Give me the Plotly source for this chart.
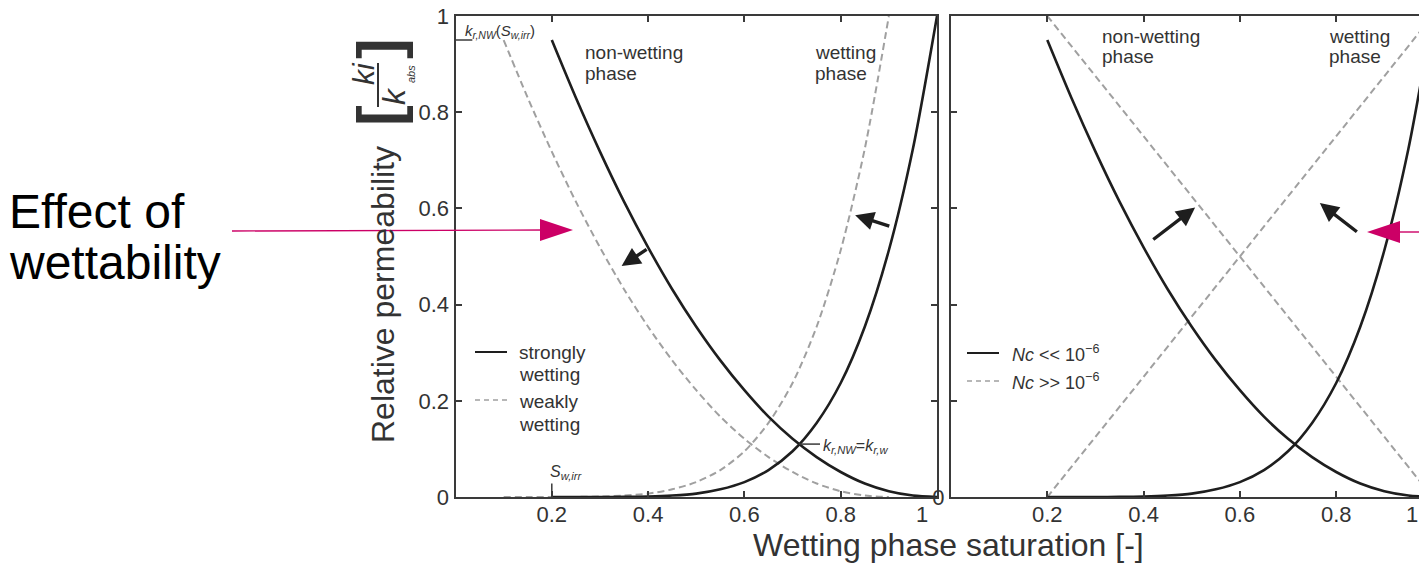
import plotly.graph_objects as go

W, H = 1419, 563

# ---- data -------------------------------------------------------------
# Strongly wetting (left) and Nc << 1e-6 (right): Corey-type curves
sw_strong = [0.20, 0.25, 0.30, 0.35, 0.40, 0.45, 0.50, 0.55, 0.60,
             0.65, 0.70, 0.75, 0.80, 0.85, 0.90, 0.95, 1.00]
kr_nw_strong = [0.95, 0.83, 0.718, 0.614, 0.519, 0.432, 0.354, 0.284, 0.222,
                0.167, 0.121, 0.083, 0.052, 0.028, 0.012, 0.003, 0.0]
kr_w_strong = [0.0, 0.0, 0.0, 0.0002, 0.001, 0.003, 0.007, 0.016, 0.031,
               0.056, 0.095, 0.154, 0.237, 0.354, 0.513, 0.724, 1.0]

# Weakly wetting (left, dashed)
sw_weak = [0.10, 0.15, 0.20, 0.25, 0.30, 0.35, 0.40, 0.45, 0.50,
           0.55, 0.60, 0.65, 0.70, 0.75, 0.80, 0.85, 0.90]
kr_nw_weak = [0.95, 0.83, 0.718, 0.614, 0.519, 0.432, 0.354, 0.284, 0.222,
              0.167, 0.121, 0.083, 0.052, 0.028, 0.012, 0.003, 0.0]
kr_w_weak = [0.0, 0.0, 0.0, 0.0002, 0.001, 0.003, 0.007, 0.016, 0.031,
             0.056, 0.095, 0.154, 0.237, 0.354, 0.513, 0.724, 1.0]

# Nc >> 1e-6 (right, dashed): straight-line relative permeabilities
sw_high_nc = [0.2, 1.0]
kr_nw_high_nc = [1.0, 0.0]
kr_w_high_nc = [0.0, 1.0]

x_tick_vals = [0.2, 0.4, 0.6, 0.8]
x_tick_text = ["0.2", "0.4", "0.6", "0.8"]
y_tick_vals = [0, 0.2, 0.4, 0.6, 0.8, 1]
y_tick_text = ["0", "0.2", "0.4", "0.6", "0.8", "1"]

# ---- styling ----------------------------------------------------------
FONT = "Liberation Sans, Arial, Helvetica, sans-serif"
TXT = "#333333"
SOLID = "#1e1e1e"
DASHED = "#a0a0a0"
PINK = "#cc0066"
AX = "#3a3a3a"


def fx(px):
    return px / W


def fy(py):
    return 1 - py / H


fig = go.Figure()


def curve(x, y, axes, dashed):
    fig.add_trace(go.Scatter(
        x=x, y=y, mode="lines", xaxis=axes[0], yaxis=axes[1],
        line=dict(color=DASHED if dashed else SOLID,
                  width=2 if dashed else 2.6,
                  dash="7px,4px" if dashed else "solid",
                  shape="spline", smoothing=0.8),
        showlegend=False, hoverinfo="skip"))


# left panel: wettability
curve(sw_weak, kr_nw_weak, ("x", "y"), True)
curve(sw_weak, kr_w_weak, ("x", "y"), True)
curve(sw_strong, kr_nw_strong, ("x", "y"), False)
curve(sw_strong, kr_w_strong, ("x", "y"), False)
# right panel: capillary number
curve(sw_high_nc, kr_nw_high_nc, ("x2", "y2"), True)
curve(sw_high_nc, kr_w_high_nc, ("x2", "y2"), True)
curve(sw_strong, kr_nw_strong, ("x2", "y2"), False)
curve(sw_strong, kr_w_strong, ("x2", "y2"), False)

axis_common = dict(showline=True, linecolor=AX, linewidth=2, ticks="inside",
                   ticklen=6, tickwidth=1.5, tickcolor=AX, showgrid=False,
                   zeroline=False, automargin=False,
                   tickfont=dict(family=FONT, size=22, color=TXT))

fig.update_layout(
    width=W, height=H, margin=dict(l=0, r=0, t=0, b=0, autoexpand=False),
    paper_bgcolor="white", plot_bgcolor="white",
    font=dict(family=FONT, color=TXT),
    xaxis=dict(domain=[fx(455.5), fx(937)], range=[0, 1], mirror="ticks",
               tickvals=x_tick_vals, ticktext=x_tick_text, anchor="y",
               ticklabelstandoff=-3, **axis_common),
    yaxis=dict(domain=[fy(497), fy(16)], range=[0, 1], mirror="ticks",
               tickvals=y_tick_vals, ticktext=y_tick_text, anchor="x",
               **axis_common),
    xaxis2=dict(domain=[fx(951), 1.0], range=[0, (W - 951) / 481.5],
                mirror="ticks", tickvals=x_tick_vals, ticktext=x_tick_text,
                anchor="y2", ticklabelstandoff=-3, **axis_common),
    yaxis2=dict(domain=[fy(497), fy(16)], range=[0, 1], mirror=False,
                tickvals=[0, 0.2, 0.4, 0.6, 0.8], ticktext=["0", "", "", "", ""],
                anchor="x2", **axis_common),
)

ann = []
shapes = []


def text(t, x, y, xref="paper", yref="paper", size=19, xanchor="left",
         yanchor="middle", color=TXT, angle=0, **kw):
    ann.append(dict(text=t, x=x, y=y, xref=xref, yref=yref, showarrow=False,
                    xanchor=xanchor, yanchor=yanchor, textangle=angle,
                    font=dict(family=FONT, size=size, color=color), **kw))


def arrow(x0, y0, x1, y1, xref, yref):
    ann.append(dict(text="", x=x1, y=y1, ax=x0, ay=y0, xref=xref, yref=yref,
                    axref=xref, ayref=yref, showarrow=True, arrowhead=2,
                    arrowsize=1.1, arrowwidth=3.4, arrowcolor=SOLID, standoff=0))


# phase labels
text("non-wetting", 0.265, 0.925, "x", "y")
text("phase", 0.265, 0.881, "x", "y")
text("wetting", 0.742, 0.925, "x", "y")
text("phase", 0.742, 0.881, "x", "y")
text("non-wetting", 0.309, 0.958, "x2", "y2")
text("phase", 0.309, 0.915, "x2", "y2")
text("wetting", 0.780, 0.958, "x2", "y2")
text("phase", 0.780, 0.915, "x2", "y2")

# shift arrows
arrow(0.400, 0.517, 0.345, 0.480, "x", "y")
arrow(0.904, 0.562, 0.830, 0.586, "x", "y")
arrow(0.417, 0.533, 0.507, 0.602, "x2", "y2")
arrow(0.846, 0.549, 0.766, 0.611, "x2", "y2")

# key, left panel
shapes.append(dict(type="line", xref="paper", yref="paper", x0=fx(475), x1=fx(507),
                   y0=fy(352), y1=fy(352), line=dict(color=SOLID, width=2)))
shapes.append(dict(type="line", xref="paper", yref="paper", x0=fx(475), x1=fx(507),
                   y0=fy(400), y1=fy(400), line=dict(color=DASHED, width=1.6, dash="5px,4px")))
text("strongly", fx(517), fy(352))
text("wetting", fx(517), fy(374))
text("weakly", fx(517), fy(401))
text("wetting", fx(517), fy(424))

# key, right panel
shapes.append(dict(type="line", xref="paper", yref="paper", x0=fx(967), x1=fx(999),
                   y0=fy(353), y1=fy(353), line=dict(color=SOLID, width=2)))
shapes.append(dict(type="line", xref="paper", yref="paper", x0=fx(967), x1=fx(999),
                   y0=fy(381), y1=fy(381), line=dict(color=DASHED, width=1.6, dash="5px,4px")))
text("<i>Nc</i> << 10<sup>\u22126</sup>", fx(1010), fy(353), size=18)
text("<i>Nc</i> >> 10<sup>\u22126</sup>", fx(1010), fy(381), size=18)

# irreducible saturation markers
shapes.append(dict(type="line", xref="x", yref="y", x0=0.2, x1=0.2, y0=0, y1=0.028,
                   line=dict(color=AX, width=1.5)))
text("<i>S</i><sub><i>w,irr</i></sub>", 0.192, 0.05, "x", "y", size=16)
shapes.append(dict(type="line", xref="x", yref="y", x0=0, x1=0.035, y0=0.95, y1=0.95,
                   line=dict(color=AX, width=1.5)))
text("<i>k</i><sub><i>r,NW</i></sub>(<i>S</i><sub><i>w,irr</i></sub>)", 0.015, 0.967,
     "x", "y", size=15)

# crossover point
shapes.append(dict(type="line", xref="x", yref="y", x0=0.713, x1=0.757, y0=0.11, y1=0.11,
                   line=dict(color=AX, width=1.5)))
text("<i>k</i><sub><i>r,NW</i></sub>=<i>k</i><sub><i>r,w</i></sub>", 0.760, 0.106,
     "x", "y", size=16)

# end-of-axis tick labels
text("1", 0.968, 0, "x", "y", size=22, xanchor="center", yshift=-17)
text("1", fx(1412), fy(514), size=22, xanchor="center")

# axis titles
text("Wetting phase saturation [-]", fx(948.5), fy(545), size=32, xanchor="center")
text("Relative permeability", fx(383), fy(295), size=32, xanchor="center", angle=-90)
text("<b>[</b>", fx(378), fy(116), size=62, xanchor="center", angle=-90)
text("<b>]</b>", fx(378), fy(49), size=62, xanchor="center", angle=-90)
text("<i>ki</i>", fx(363), fy(74), size=30, xanchor="center", angle=-90)
shapes.append(dict(type="line", xref="paper", yref="paper", x0=fx(378), x1=fx(378),
                   y0=fy(63), y1=fy(107), line=dict(color=TXT, width=2)))
text("<i>k</i>", fx(394), fy(96), size=32, xanchor="center", angle=-90)
text("<i>abs</i>", fx(411), fy(74), size=11, xanchor="center", angle=-90)

# overlay: wettability callout
text("Effect of", fx(7), fy(211), size=48, color="#000000")
text("wettability", fx(7), fy(262), size=48, color="#000000")
shapes.append(dict(type="line", xref="paper", yref="paper", x0=fx(232), x1=fx(545),
                   y0=fy(231), y1=fy(230), line=dict(color=PINK, width=1.4)))
shapes.append(dict(type="path", xref="paper", yref="paper",
                   path=f"M {fx(540)} {fy(219)} L {fx(573)} {fy(230)} L {fx(540)} {fy(241)} Z",
                   fillcolor=PINK, line=dict(color=PINK, width=0)))
shapes.append(dict(type="line", xref="paper", yref="paper", x0=fx(1395), x1=fx(1419),
                   y0=fy(232), y1=fy(232), line=dict(color=PINK, width=1.4)))
shapes.append(dict(type="path", xref="paper", yref="paper",
                   path=f"M {fx(1400)} {fy(221)} L {fx(1367)} {fy(232)} L {fx(1400)} {fy(243)} Z",
                   fillcolor=PINK, line=dict(color=PINK, width=0)))

fig.update_layout(annotations=ann, shapes=shapes)
fig.write_html("out.html", config={"displayModeBar": False})
